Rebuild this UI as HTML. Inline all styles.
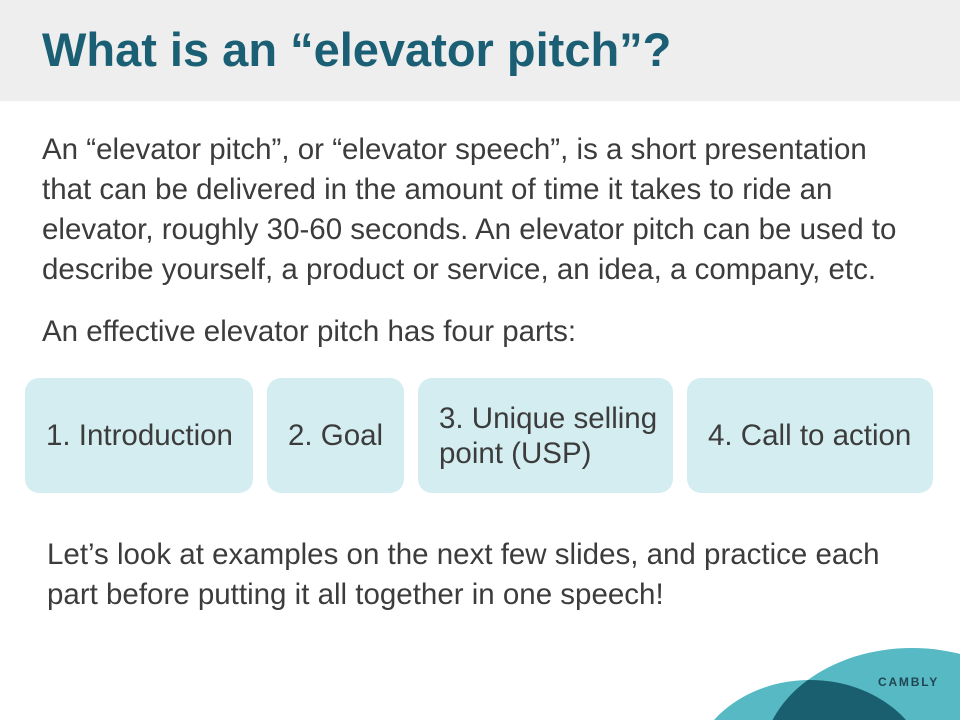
<!DOCTYPE html>
<html><head><meta charset="utf-8"><style>
body{margin:0;width:960px;height:720px;overflow:hidden;background:#fff;font-family:"Liberation Sans",Arial,sans-serif;position:relative}
#hdr{position:absolute;left:0;top:0;width:960px;height:101px;background:#eeeeef}
#title{position:absolute;left:42px;top:22px;font-size:47px;font-weight:bold;color:#1b5f74;margin:0;white-space:nowrap}
.p{position:absolute;left:42px;font-size:29.5px;color:#3c3c3c;line-height:40px;margin:0;white-space:nowrap}
.box{position:absolute;top:378px;height:115px;background:#d3edf0;border-radius:14px;display:flex;align-items:center;box-sizing:border-box;padding-left:21px;font-size:29.5px;color:#3c3c3c;line-height:35px;white-space:nowrap;overflow:hidden}
svg{position:absolute;left:0;top:0}
</style></head><body>
<div id="hdr"></div>
<h1 id="title">What is an “elevator pitch”?</h1>
<p class="p" style="top:130px">An “elevator pitch”, or “elevator speech”, is a short presentation<br>that can be delivered in the amount of time it takes to ride an<br>elevator, roughly 30-60 seconds. An elevator pitch can be used to<br>describe yourself, a product or service, an idea, a company, etc.</p>
<p class="p" style="top:312px">An effective elevator pitch has four parts:</p>
<div class="box" style="left:25px;width:228px">1. Introduction</div>
<div class="box" style="left:267px;width:137px">2. Goal</div>
<div class="box" style="left:418px;width:255px">3. Unique selling<br>point (USP)</div>
<div class="box" style="left:687px;width:246px">4. Call to action</div>
<p class="p" style="top:535px;left:47px">Let’s look at examples on the next few slides, and practice each<br>part before putting it all together in one speech!</p>
<svg width="960" height="720">
<defs><clipPath id="c1"><ellipse cx="912" cy="762" rx="150" ry="114"/></clipPath></defs>
<ellipse cx="912" cy="762" rx="150" ry="114" fill="#56b9c4"/>
<ellipse cx="810" cy="780" rx="120" ry="100" fill="#56b9c4"/>
<ellipse cx="810" cy="780" rx="120" ry="100" fill="#1a5f70" clip-path="url(#c1)"/>
<text x="878" y="686" font-family="Liberation Sans, sans-serif" font-weight="bold" font-size="12" letter-spacing="1.8" fill="#1f4652">CAMBLY</text>
</svg>
</body></html>
